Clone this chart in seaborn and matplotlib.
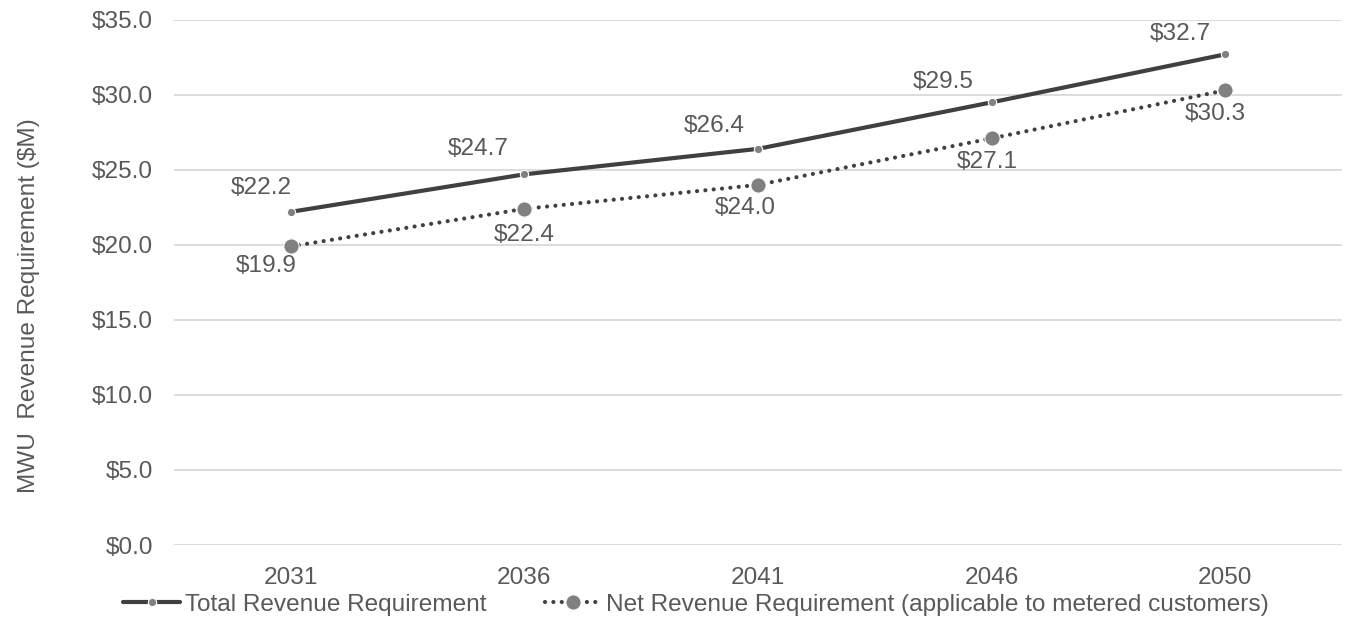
import matplotlib
matplotlib.use("Agg")
import matplotlib.pyplot as plt
import seaborn as sns
import pandas as pd

years = ["2031", "2036", "2041", "2046", "2050"]
total_rev = [22.2, 24.7, 26.4, 29.5, 32.7]
net_rev = [19.9, 22.4, 24.0, 27.1, 30.3]
series_names = ["Total Revenue Requirement",
                "Net Revenue Requirement (applicable to metered customers)"]
y_ticks = [0, 5, 10, 15, 20, 25, 30, 35]
y_label = "MWU  Revenue Requirement ($M)"

sns.set_style("white")
plt.rcParams['font.family'] = ['Liberation Sans', 'DejaVu Sans']

TEXT = "#595959"
LINE = "#404040"
MARK = "#808080"
GRID = "#d9d9d9"
FS = 17.6

fig = plt.figure(figsize=(13.57, 6.19), dpi=100)
ax = fig.add_axes([0.128, 0.1195, 0.861, 0.8485])

df_total = pd.DataFrame({"year": years, "value": total_rev})
df_net = pd.DataFrame({"year": years, "value": net_rev})

sns.lineplot(data=df_total, x="year", y="value", ax=ax, color=LINE, lw=3,
             marker="o", markersize=6, markerfacecolor=MARK, markeredgecolor="white",
             markeredgewidth=0.8, label=series_names[0], sort=False)
sns.lineplot(data=df_net, x="year", y="value", ax=ax, color=LINE, lw=3,
             marker="o", markersize=11, markerfacecolor=MARK, markeredgecolor="white",
             markeredgewidth=0.8, label=series_names[1], sort=False,
             dashes=False)
net_line = ax.lines[1]
net_line.set_linestyle((0, (0.01, 2.0)))
net_line.set_dash_capstyle("round")

ax.set_xlim(-0.5, 4.5)
ax.set_ylim(0, 35)
ax.set_yticks(y_ticks)
ax.set_yticklabels([f"${v:.1f}" for v in y_ticks])
ax.grid(axis="y", color=GRID, lw=1.3)
ax.set_axisbelow(True)
for s in ax.spines.values():
    s.set_visible(False)
ax.tick_params(axis="both", length=0, labelsize=FS, labelcolor=TEXT)
ax.tick_params(axis="x", pad=16)
ax.tick_params(axis="y", pad=15)
ax.set_xlabel("")
ax.set_ylabel(y_label, fontsize=FS, color=TEXT, va="center")
ax.yaxis.set_label_coords(-0.124, 0.455)

# data labels (pixel offsets)
tot_off = [(-29, 24), (-46, 25), (-44, 23), (-48, 20), (-45, 20)]
net_off = [(-24, -20), (0, -26), (-13, -23), (-4, -24), (-10, -24)]
for i, v in enumerate(total_rev):
    ax.annotate(f"${v:.1f}", (i, v), xytext=tot_off[i], textcoords="offset pixels",
                ha="center", va="center", fontsize=FS, color=TEXT)
for i, v in enumerate(net_rev):
    ax.annotate(f"${v:.1f}", (i, v), xytext=net_off[i], textcoords="offset pixels",
                ha="center", va="center", fontsize=FS, color=TEXT)

leg = ax.legend(loc="center", bbox_to_anchor=(0.447, -0.114), ncol=2, frameon=False,
                fontsize=FS, handlelength=2.3, handletextpad=0.2, columnspacing=2.4)
for t in leg.get_texts():
    t.set_color(TEXT)
leg_lines = leg.get_lines()
leg_lines[1].set_linestyle((0, (0.01, 2.0)))
leg_lines[1].set_dash_capstyle("round")

fig.savefig("out.png", dpi=100)
